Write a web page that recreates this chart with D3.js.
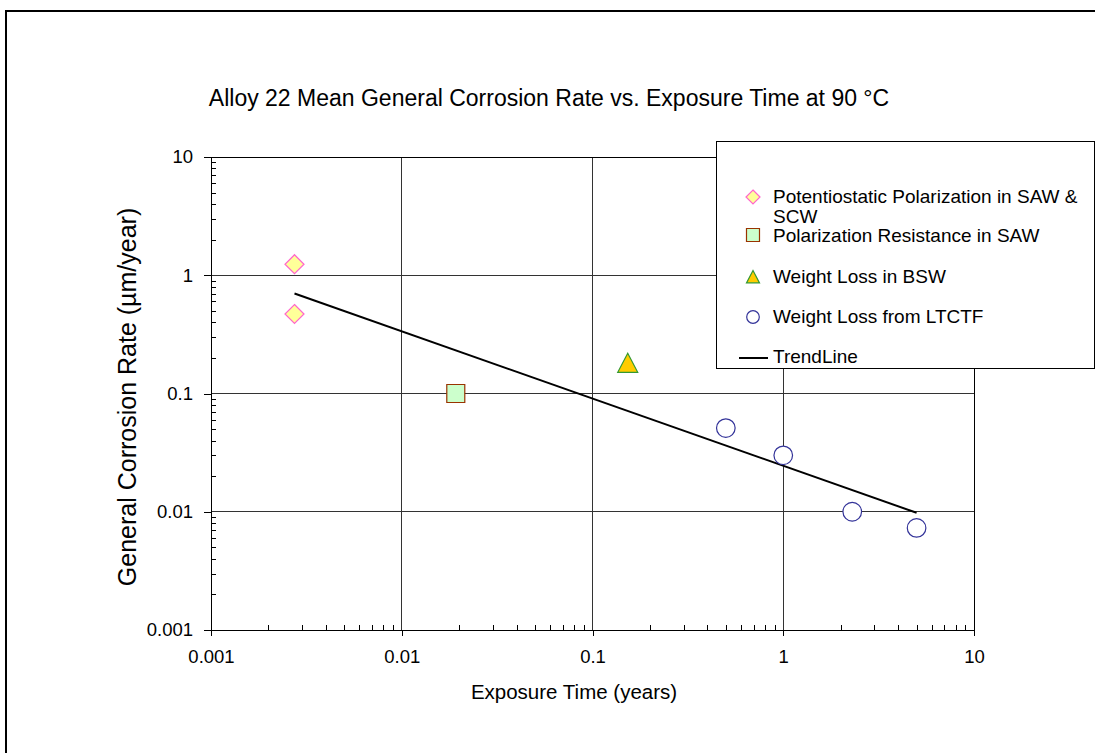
<!DOCTYPE html>
<html>
<head>
<meta charset="utf-8">
<script src="https://cdn.jsdelivr.net/npm/d3@7"></script>
<style>
  html, body { margin: 0; padding: 0; background: #fff; }
  svg { display: block; font-family: "Liberation Sans", Arial, sans-serif; }
</style>
</head>
<body>
<svg id="chart" width="1095" height="753"></svg>
<script>
// Exposure time (years) and mean general corrosion rate (µm/year) per test method
const potentiostaticX = [0.00274, 0.00274];
const potentiostaticY = [1.24, 0.47];
const polResistanceX = [0.0192];
const polResistanceY = [0.10];
const weightLossBswX = [0.153];
const weightLossBswY = [0.18];
const ltctfX = [0.5, 1, 2.3, 5];
const ltctfY = [0.051, 0.030, 0.0100, 0.0073];
const trendX = [0.00274, 5];
const trendY = [0.70, 0.0098];

const majorTicks = [0.001, 0.01, 0.1, 1, 10];
const majorLabels = ["0.001", "0.01", "0.1", "1", "10"];

const legendLabels = [
  ["Potentiostatic Polarization in SAW &", "SCW"],
  ["Polarization Resistance in SAW"],
  ["Weight Loss in BSW"],
  ["Weight Loss from LTCTF"],
  ["TrendLine"]
];

const svg = d3.select("#chart");

// outer chart frame
svg.append("rect")
  .attr("x", 6).attr("y", 11).attr("width", 1100).attr("height", 760)
  .attr("fill", "#fff").attr("stroke", "#000").attr("stroke-width", 2);

const plotLeft = 211, plotRight = 974, plotTop = 157, plotBottom = 630;
const x = d3.scaleLog().domain([0.001, 10]).range([plotLeft, plotRight]);
const y = d3.scaleLog().domain([0.001, 10]).range([plotBottom, plotTop]);

// minor tick values (2..9 within each decade)
const minor = [];
for (let e = -3; e < 1; e++) {
  for (let k = 2; k <= 9; k++) minor.push(k * Math.pow(10, e));
}

// gridlines at each decade
const grid = svg.append("g").attr("stroke", "#333").attr("stroke-width", 1).attr("shape-rendering", "crispEdges");
majorTicks.forEach(v => {
  grid.append("line").attr("x1", x(v)).attr("x2", x(v)).attr("y1", plotTop).attr("y2", plotBottom);
  grid.append("line").attr("x1", plotLeft).attr("x2", plotRight).attr("y1", y(v)).attr("y2", y(v));
});

// x axis: major ticks outward, minor ticks inward
const xAxis = svg.append("g").attr("transform", `translate(0,${plotBottom})`)
  .call(d3.axisBottom(x).tickValues(majorTicks).tickFormat((d, i) => majorLabels[i]).tickSize(6).tickSizeOuter(0).tickPadding(14));
const xMinor = svg.append("g").attr("transform", `translate(0,${plotBottom})`)
  .call(d3.axisTop(x).tickValues(minor).tickFormat("").tickSize(5).tickSizeOuter(0));

// y axis: major ticks outward, minor ticks inward
const yAxis = svg.append("g").attr("transform", `translate(${plotLeft},0)`)
  .call(d3.axisLeft(y).tickValues(majorTicks).tickFormat((d, i) => majorLabels[i]).tickSize(7).tickSizeOuter(0).tickPadding(11));
const yMinor = svg.append("g").attr("transform", `translate(${plotLeft},0)`)
  .call(d3.axisRight(y).tickValues(minor).tickFormat("").tickSize(5).tickSizeOuter(0));

[xAxis, xMinor, yAxis, yMinor].forEach(g => {
  g.attr("shape-rendering", "crispEdges");
  g.selectAll("path, line").attr("stroke", "#000");
  g.selectAll("text").attr("fill", "#000").style("font-size", "18.5px").style("font-family", "'Liberation Sans', Arial, sans-serif");
});

// top and right edges of the plot area
svg.append("path")
  .attr("d", `M${plotLeft},${plotTop}H${plotRight}V${plotBottom}`)
  .attr("fill", "none").attr("stroke", "#000").attr("shape-rendering", "crispEdges");

// trend line
const line = d3.line().x(d => x(d[0])).y(d => y(d[1]));
svg.append("path")
  .datum(d3.zip(trendX, trendY))
  .attr("d", line)
  .attr("fill", "none").attr("stroke", "#000").attr("stroke-width", 2);

// marker shapes
const symDiamond = s => `M0,${-s}L${s},0L0,${s}L${-s},0Z`;
const symSquare = s => `M${-s},${-s}H${s}V${s}H${-s}Z`;
const symTriangle = s => `M0,${-s}L${s},${s * 0.9}H${-s}Z`;

const styles = {
  diamond: { fill: "#ffff99", stroke: "#ff66cc" },
  square: { fill: "#ccffcc", stroke: "#993300" },
  triangle: { fill: "#ffcc00", stroke: "#339933" },
  circle: { fill: "#fff", stroke: "#333399" }
};

function drawMarker(g, kind, cx, cy, s) {
  const st = styles[kind];
  let el;
  if (kind === "circle") {
    el = g.append("circle").attr("cx", cx).attr("cy", cy).attr("r", s);
  } else {
    const d = kind === "diamond" ? symDiamond(s) : kind === "square" ? symSquare(s) : symTriangle(s);
    el = g.append("path").attr("d", d).attr("transform", `translate(${cx},${cy})`);
  }
  el.attr("fill", st.fill).attr("stroke", st.stroke).attr("stroke-width", 1.2);
}

const marks = svg.append("g");
d3.zip(potentiostaticX, potentiostaticY).forEach(([a, b]) => drawMarker(marks, "diamond", x(a), y(b), 9.5));
d3.zip(polResistanceX, polResistanceY).forEach(([a, b]) => drawMarker(marks, "square", x(a), y(b), 9));
d3.zip(weightLossBswX, weightLossBswY).forEach(([a, b]) => drawMarker(marks, "triangle", x(a), y(b), 10));
d3.zip(ltctfX, ltctfY).forEach(([a, b]) => drawMarker(marks, "circle", x(a), y(b), 9.3));

// legend
const lg = svg.append("g");
lg.append("rect").attr("x", 716.5).attr("y", 141.5).attr("width", 378).attr("height", 227)
  .attr("fill", "#fff").attr("stroke", "#000").attr("stroke-width", 1);
const rows = [
  { kind: "diamond", my: 197, ty: 203 },
  { kind: "square", my: 235, ty: 242 },
  { kind: "triangle", my: 277, ty: 283 },
  { kind: "circle", my: 317, ty: 323 },
  { kind: "line", my: 358, ty: 363 }
];
rows.forEach((r, i) => {
  if (r.kind === "line") {
    lg.append("line").attr("x1", 739).attr("x2", 768).attr("y1", r.my).attr("y2", r.my)
      .attr("stroke", "#000").attr("stroke-width", 2);
  } else {
    drawMarker(lg, r.kind, 753, r.my, r.kind === "circle" ? 6.3 : r.kind === "diamond" ? 7 : 6.5);
  }
  const t = lg.append("text").attr("x", 773).attr("y", r.ty).style("font-size", "19px").attr("fill", "#000");
  legendLabels[i].forEach((s, j) => {
    t.append("tspan").attr("x", 773).attr("dy", j === 0 ? 0 : 20).text(s);
  });
});

// titles
svg.append("text").attr("x", 549).attr("y", 106).attr("text-anchor", "middle")
  .style("font-size", "23px").text("Alloy 22 Mean General Corrosion Rate vs. Exposure Time at 90 °C");
svg.append("text").attr("x", 574).attr("y", 699).attr("text-anchor", "middle")
  .style("font-size", "20.5px").text("Exposure Time (years)");
svg.append("text").attr("transform", "translate(136,397) rotate(-90)").attr("text-anchor", "middle")
  .style("font-size", "25px").text("General Corrosion Rate (µm/year)");
</script>
</body>
</html>
